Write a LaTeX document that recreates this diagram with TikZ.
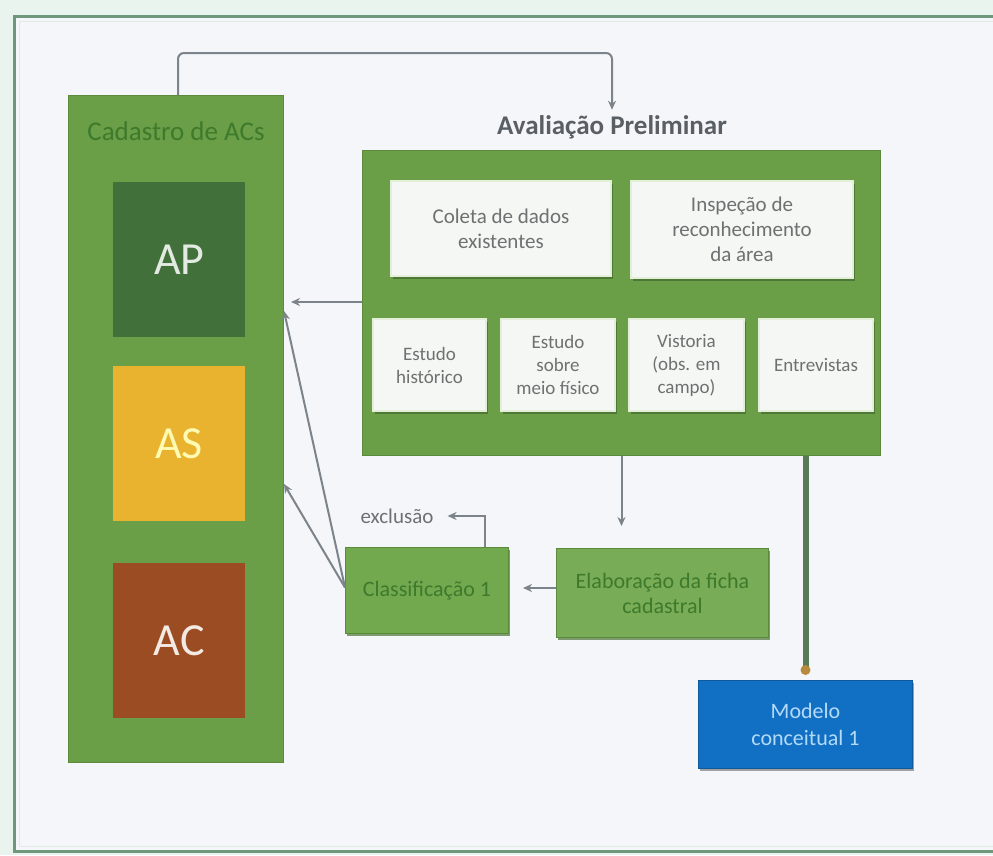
\documentclass[tikz,border=0pt]{standalone}
\usepackage{fontspec}
\setmainfont{Carlito}
\usetikzlibrary{arrows.meta,shadows}
\definecolor{bgc}{HTML}{F4F6F9}
\definecolor{outerc}{HTML}{EAF4EE}
\definecolor{framec}{HTML}{6E977C}
\definecolor{panelc}{HTML}{6A9E47}
\definecolor{paneledge}{HTML}{5B8A3C}
\definecolor{shadowc}{HTML}{4C7435}
\definecolor{wboxc}{HTML}{F4F7F3}
\definecolor{wedge}{HTML}{E3EFD8}
\definecolor{wtext}{HTML}{6E7072}
\definecolor{apc}{HTML}{41703A}
\definecolor{asc}{HTML}{E9B22F}
\definecolor{acc}{HTML}{9C4C23}
\definecolor{clsc}{HTML}{72A94F}
\definecolor{fichac}{HTML}{79AC56}
\definecolor{dgtext}{HTML}{3D7A2C}
\definecolor{connc}{HTML}{7C838A}
\definecolor{thickc}{HTML}{587A56}
\definecolor{dotc}{HTML}{B98A3C}
\definecolor{modc}{HTML}{1170C4}
\definecolor{modtext}{HTML}{B4DAF8}
\definecolor{titlec}{HTML}{5A5F66}
\tikzset{
  panel/.style={rectangle, fill=panelc, draw=paneledge, line width=1pt, anchor=north west, inner sep=0pt},
  catbox/.style={rectangle, anchor=north west, inner sep=0pt, minimum width=132pt, minimum height=155pt, font=\fontsize{46}{50}\selectfont},
  wbox/.style={rectangle, fill=wboxc, draw=wedge, line width=2pt, anchor=north west, inner sep=2pt, align=center, text=wtext, font=\fontsize{21}{25}\selectfont, drop shadow={shadow xshift=1.5pt, shadow yshift=-2.5pt, fill=shadowc, opacity=0.9}},
  wsmall/.style={wbox, font=\fontsize{19}{23}\selectfont},
  gbox/.style={rectangle, draw=paneledge, line width=1pt, anchor=north west, inner sep=2pt, align=center, text=dgtext, font=\fontsize{22}{25}\selectfont, drop shadow={shadow xshift=1.5pt, shadow yshift=-2.5pt, fill=shadowc, opacity=0.7}},
  conn/.style={draw=connc, line width=2pt, -{Stealth[length=9pt,width=8pt]}},
}
\begin{document}
\begin{tikzpicture}[x=1pt,y=-1pt]
\useasboundingbox (0,0) rectangle (993,855);
\fill[outerc] (0,0) rectangle (993,855);
\fill[bgc] (14,16) rectangle (993,851);
\draw[framec, line width=3pt] (993,16) -- (14,16) -- (14,851) -- (993,851);
\draw[white!80!framec, line width=1pt] (993,21) -- (19,21) -- (19,846) -- (993,846);

% Cadastro panel
\node[panel, minimum width=215pt, minimum height=667pt] (cad) at (68,95) {};
\node[text=dgtext, font=\fontsize{27}{30}\selectfont] (cadt) at (176,131) {Cadastro de ACs};
\node[catbox, fill=apc, text=white!85!apc] (ap) at (113,182) {AP};
\node[catbox, fill=asc, text=yellow!30!white] (as) at (113,366) {AS};
\node[catbox, fill=acc, text=white!88!acc] (ac) at (113,563) {AC};

% Avaliacao preliminar
\node[text=titlec, font=\fontsize{27}{30}\selectfont\bfseries] (avt) at (612,127) {Avaliação Preliminar};
\node[panel, minimum width=518pt, minimum height=305pt] (av) at (362,150) {};
\node[wbox, minimum width=220pt, minimum height=95pt] (col) at (390,180) {Coleta de dados\\existentes};
\node[wbox, minimum width=222pt, minimum height=97pt] (insp) at (630,180) {Inspeção de\\reconhecimento\\da área};
\node[wsmall, minimum width=113pt, minimum height=92pt] (hist) at (372,318) {Estudo\\histórico};
\node[wsmall, minimum width=114pt, minimum height=92pt] (meio) at (500,318) {Estudo\\sobre\\meio físico};
\node[wsmall, minimum width=115pt, minimum height=92pt] (vist) at (628,318) {Vistoria\\(obs. em\\campo)};
\node[wsmall, minimum width=114pt, minimum height=92pt] (entr) at (758,318) {Entrevistas};

% lower boxes
\node[gbox, fill=clsc, minimum width=163pt, minimum height=86pt] (cls) at (345,547) {Classificação 1};
\node[gbox, fill=fichac, minimum width=212pt, minimum height=89pt] (ficha) at (556,548) {Elaboração da ficha\\cadastral};
\node[rectangle, fill=modc, draw=modc!80!black, line width=1pt, anchor=north west, minimum width=214pt, minimum height=88pt, align=center, text=modtext, font=\fontsize{22}{27}\selectfont, drop shadow={shadow xshift=1pt, shadow yshift=-2pt, fill=black, opacity=0.35}] (mod) at (698,680) {Modelo\\conceitual 1};
\node[text=wtext, font=\fontsize{21}{24}\selectfont, inner sep=2pt] (excl) at (397,516) {exclusão};

% connectors
\coordinate (topy) at (0,53);
\draw[conn, rounded corners=6pt] (cad.north -| 178,0) |- (topy -| avt.north) -- ([yshift=2pt]avt.north);
\coordinate (aparr) at (291,302);
\draw[conn] (av.west |- aparr) -- (aparr);
\coordinate (apin) at (284,311);
\coordinate (asin) at (284,484);
\draw[conn] ([yshift=3pt]cls.west) -- (apin);
\draw[conn] ([yshift=3pt]cls.west) -- (asin);
\draw[conn, shorten >=14pt] (ficha.west |- 0,588) -- (cls.east |- 0,588);
\draw[conn, shorten >=22pt] (av.south) -- (av.south |- ficha.north);
\draw[conn] ([xshift=58pt]cls.north) |- ([xshift=12pt]excl.east);
\draw[thickc, line width=6pt] (mod.north |- av.south) -- ([yshift=10pt]mod.north);
\fill[dotc] ([yshift=10pt]mod.north) circle (5pt);
\end{tikzpicture}
\end{document}
